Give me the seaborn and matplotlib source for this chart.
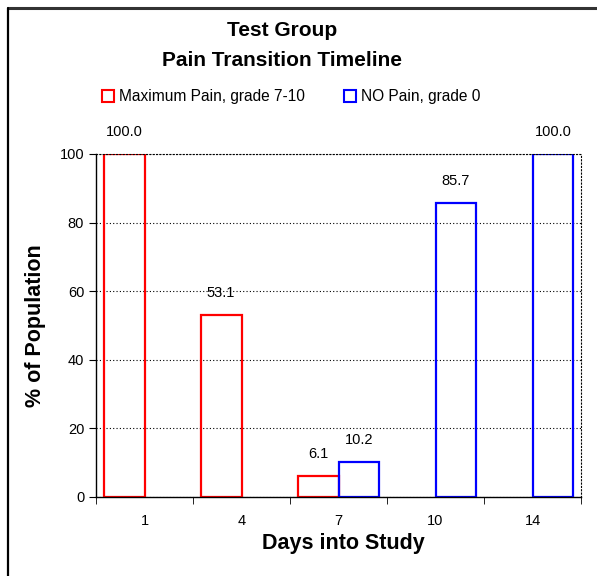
import pandas as pd
import numpy as np
import seaborn as sns
from matplotlib import pyplot as plt
from matplotlib.lines import Line2D

days = ["1", "4", "7", "10", "14"]
max_pain = [100.0, 53.1, 6.1, 0.0, 0.0]
no_pain = [0.0, 0.0, 10.2, 85.7, 100.0]
series = ["Maximum Pain, grade 7-10", "NO Pain, grade 0"]
colors = ["#ff0000", "#0000ff"]

df = pd.DataFrame({
    "day": days * 2,
    "value": max_pain + no_pain,
    "series": [series[0]] * len(days) + [series[1]] * len(days),
})

sns.set_style("white")
plt.rcParams['font.family'] = ['Liberation Sans', 'DejaVu Sans']
plt.rcParams['text.color'] = 'black'
plt.rcParams['axes.labelcolor'] = 'black'
plt.rcParams['xtick.color'] = 'black'
plt.rcParams['ytick.color'] = 'black'

fig = plt.figure(figsize=(5.97, 5.76), dpi=100)
ax = fig.add_axes([96/597, 1-497/576, (581-96)/597, (497-154)/576])

sns.barplot(data=df, x="day", y="value", hue="series", order=days, hue_order=series,
            palette=colors, width=0.84, gap=0, fill=False, linewidth=1.6, ax=ax,
            errorbar=None, legend=False)

# outline colours + value labels (skip the empty bars)
for cont, col in zip(ax.containers, colors):
    for p in cont:
        p.set_edgecolor(col)
        h = p.get_height()
        if h == 0 or np.isnan(h):
            p.set_visible(False)
            continue
        ax.annotate(f"{h:.1f}", (p.get_x() + p.get_width()/2, h), xytext=(0, 11),
                    textcoords="offset points", ha="center", va="bottom", fontsize=10.5)

ax.set_ylim(0, 100)
ax.set_xlim(-0.5, 4.5)
ax.set_yticks([0, 20, 40, 60, 80, 100])
ax.yaxis.grid(True, color="black", linestyle=(0, (1, 2)), linewidth=0.8)
ax.set_axisbelow(True)
ax.tick_params(axis="y", which="major", length=5, direction="out", color="black", labelsize=10.5, left=True)
ax.set_xticks(range(len(days)))
ax.set_xticklabels(days)
ax.set_xticks(np.arange(-0.5, len(days)), minor=True)
ax.tick_params(axis="x", which="major", length=0, labelsize=10.5, pad=12)
ax.tick_params(axis="x", which="minor", length=5, direction="out", color="black", bottom=True)

for s in ["top", "right"]:
    ax.spines[s].set_linestyle((0, (1, 2)))
    ax.spines[s].set_linewidth(0.8)
    ax.spines[s].set_color("black")
for s in ["left", "bottom"]:
    ax.spines[s].set_color("black")
    ax.spines[s].set_linewidth(1.0)

ax.set_xlabel("Days into Study", fontsize=15.5, fontweight="bold", labelpad=4)
ax.set_ylabel("% of Population", fontsize=15.5, fontweight="bold", labelpad=10)
ax.xaxis.set_label_coords(0.51, -0.105)

fig.text(282/597, 1-30/576, "Test Group", ha="center", va="center", fontsize=15, fontweight="bold")
fig.text(282/597, 1-60/576, "Pain Transition Timeline", ha="center", va="center", fontsize=15, fontweight="bold")

handles = [plt.Rectangle((0, 0), 1, 1, facecolor="none", edgecolor=c, linewidth=1.5) for c in colors]
fig.legend(handles, series, loc="center", bbox_to_anchor=(291/597, 1-97/576), ncol=2, frameon=False,
           fontsize=11.2, handlelength=0.8, handleheight=0.8, handletextpad=0.3, columnspacing=2.5)

# outer chart frame (top and left edges visible)
fig.add_artist(Line2D([7.5/597, 1], [1-7.5/576, 1-7.5/576], color="#333333", linewidth=2.2))
fig.add_artist(Line2D([7.5/597, 7.5/597], [0, 1-7.5/576], color="black", linewidth=1.6))

fig.savefig("out.png", dpi=100)
